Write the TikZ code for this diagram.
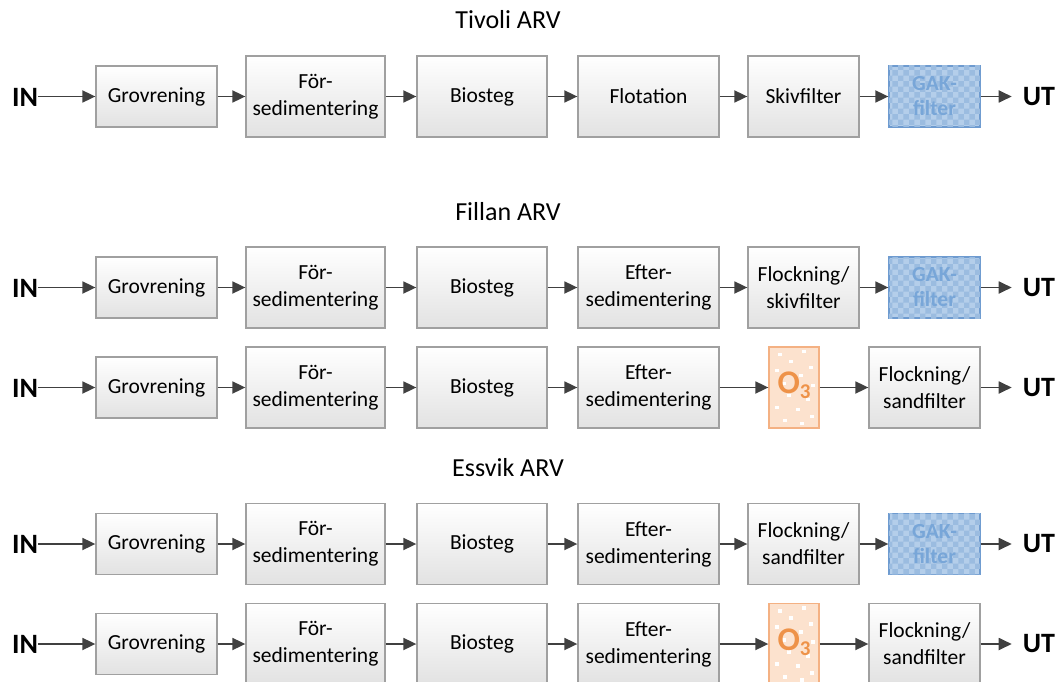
\documentclass[tikz,border=0pt]{standalone}
\usepackage{fontspec}
\setmainfont{Carlito}
\usetikzlibrary{arrows.meta,patterns}
\definecolor{boxborder}{RGB}{160,160,160}
\definecolor{boxbottom}{RGB}{226,226,226}
\definecolor{arrowcol}{RGB}{64,64,64}
\definecolor{gakfill}{RGB}{180,206,234}
\definecolor{gakpat}{RGB}{155,188,224}
\definecolor{gakborder}{RGB}{110,155,208}
\definecolor{gaktext}{RGB}{120,166,216}
\definecolor{ozfill}{RGB}{252,226,206}
\definecolor{ozborder}{RGB}{244,177,131}
\definecolor{oztext}{RGB}{238,146,72}
\newcommand{\boxfont}{\fontsize{21.5}{27}\selectfont}
\begin{document}
\begin{tikzpicture}[x=1pt,y=-1pt,
  box/.style={draw=boxborder, line width=1.3pt, top color=white, bottom color=boxbottom,
    align=center, font=\boxfont, inner sep=0pt, minimum width=#1},
  small/.style={box=#1, minimum height=61},
  big/.style={box=#1, minimum height=81},
  gak/.style={draw=gakborder, line width=1.3pt, fill=gakfill, minimum width=91, minimum height=61,
    align=center, inner sep=0pt, text=gaktext, font=\fontsize{21.5}{25}\selectfont\bfseries,
    postaction={pattern=checkerboard, pattern color=gakpat}},
  ozone/.style={draw=ozborder, line width=1.3pt, fill=ozfill, minimum width=50, minimum height=81,
    inner sep=0pt},
  ozlabel/.style={text=oztext, font=\fontsize{33}{33}\selectfont\bfseries, inner sep=0pt},
  term/.style={font=\fontsize{28}{28}\selectfont\bfseries, inner sep=0pt},
  title/.style={font=\fontsize{26}{26}\selectfont, inner sep=0pt},
  flow/.style={draw=arrowcol, line width=1.8pt, -{Triangle[length=13pt,width=12pt]}}
]
\useasboundingbox (0,0) rectangle (1063,682);
\clip (0,0) rectangle (1063,682);

% ---------- Tivoli ----------
\node[title] (t1) at (508,20) {Tivoli ARV};
\node[term] (in1) at (25,97) {IN};
\node[small=121] (a1) at (156.5,96.5) {Grovrening};
\node[big=139] (b1) at (315.5,96.5) {För-\\sedimentering};
\node[big=130] (c1) at (482,96.5) {Biosteg};
\node[big=141] (d1) at (648.5,96.5) {Flotation};
\node[big=111] (e1) at (803.5,96.5) {Skivfilter};
\node[gak] (f1) at (934.5,96.5) {GAK-\\filter};
\node[term] (ut1) at (1039,97) {UT};

% ---------- Fillan ----------
\node[title] (t2) at (508,212) {Fillan ARV};
\node[term] (in2) at (25,288) {IN};
\node[small=121] (a2) at (156.5,287.5) {Grovrening};
\node[big=139] (b2) at (315.5,287.5) {För-\\sedimentering};
\node[big=130] (c2) at (482,287.5) {Biosteg};
\node[big=141] (d2) at (648.5,287.5) {Efter-\\sedimentering};
\node[big=111] (e2) at (803.5,287.5) {Flockning/\\skivfilter};
\node[gak] (f2) at (934.5,287.5) {GAK-\\filter};
\node[term] (ut2) at (1039,288) {UT};

\node[term] (in3) at (25,388) {IN};
\node[small=121] (a3) at (156.5,387.5) {Grovrening};
\node[big=139] (b3) at (315.5,387.5) {För-\\sedimentering};
\node[big=130] (c3) at (482,387.5) {Biosteg};
\node[big=141] (d3) at (648.5,387.5) {Efter-\\sedimentering};
\node[ozone] (o3) at (794,387.5) {};
\node[big=111] (g3) at (924.5,387.5) {Flockning/\\sandfilter};
\node[term] (ut3) at (1039,388) {UT};

% ---------- Essvik ----------
\node[title] (t3) at (508,468) {Essvik ARV};
\node[term] (in4) at (25,544) {IN};
\node[small=121] (a4) at (156.5,544) {Grovrening};
\node[big=139] (b4) at (315.5,544) {För-\\sedimentering};
\node[big=130] (c4) at (482,544) {Biosteg};
\node[big=141] (d4) at (648.5,544) {Efter-\\sedimentering};
\node[big=111] (e4) at (803.5,544) {Flockning/\\sandfilter};
\node[gak] (f4) at (934.5,544) {GAK-\\filter};
\node[term] (ut4) at (1039,544) {UT};

\node[term] (in5) at (25,644) {IN};
\node[small=121] (a5) at (156.5,644) {Grovrening};
\node[big=139] (b5) at (315.5,644) {För-\\sedimentering};
\node[big=130] (c5) at (482,644) {Biosteg};
\node[big=141] (d5) at (648.5,644) {Efter-\\sedimentering};
\node[ozone] (o5) at (794,644) {};
\node[big=111] (g5) at (924.5,644) {Flockning/\\sandfilter};
\node[term] (ut5) at (1039,644) {UT};

% white dots and label in ozone boxes
\foreach \o/\lab in {o3/z3,o5/z5}{
  \foreach \dx/\dy in {-14/-33, 10/-36, -3/-26, 17/-20, -17/-17, 7/-12, -10/-4, 19/-2,
                       -5/8, 14/12, -17/20, 4/22, 18/29, -9/33, 8/36}{
    \fill[white] ([shift={(\dx-1.8,\dy-1.8)}]\o.center) rectangle ++(3.6,3.6);
  }
  \node[ozlabel] (\lab) at ([yshift=2]\o.center) {O\raisebox{-0.3ex}{\fontsize{21}{21}\selectfont 3}};
}

% ---------- arrows ----------
\foreach \r in {1,2,4}{
  \draw[flow] (a\r.west -| in\r.east) -- (a\r.west);
  \draw[flow] (a\r) -- (b\r);
  \draw[flow] (b\r) -- (c\r);
  \draw[flow] (c\r) -- (d\r);
  \draw[flow] (d\r) -- (e\r);
  \draw[flow] (e\r) -- (f\r);
  \draw[flow] (f\r.east) -- ([xshift=-11]f\r.east -| ut\r.west);
}
\foreach \r in {3,5}{
  \draw[flow] (a\r.west -| in\r.east) -- (a\r.west);
  \draw[flow] (a\r) -- (b\r);
  \draw[flow] (b\r) -- (c\r);
  \draw[flow] (c\r) -- (d\r);
  \draw[flow] (d\r) -- (o\r);
  \draw[flow] (o\r) -- (g\r);
  \draw[flow] (g\r.east) -- ([xshift=-11]g\r.east -| ut\r.west);
}
\end{tikzpicture}
\end{document}
